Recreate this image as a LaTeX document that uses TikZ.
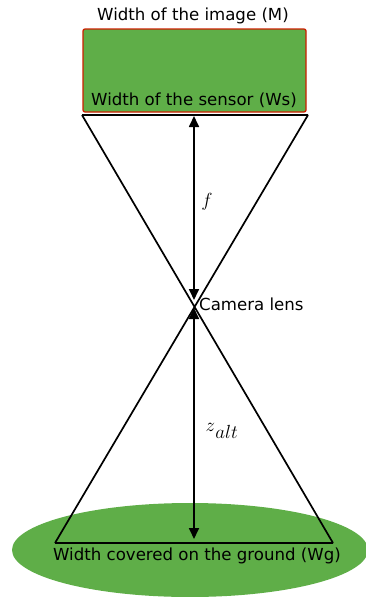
\documentclass[tikz,border=0pt]{standalone}
\usepackage{fix-cm}
\usepackage{fontspec}
\setmainfont{DejaVu Sans}
\usetikzlibrary{arrows.meta,positioning}
\definecolor{grass}{RGB}{95,174,72}
\definecolor{rim}{RGB}{205,30,0}
\tikzset{
  ray/.style={line width=1.7pt},
  dist/.style={line width=1.7pt,{Triangle[width=10pt,length=11pt]}-{Triangle[width=10pt,length=11pt]}},
  lbl/.style={font=\fontsize{16.6}{19}\selectfont,inner sep=0pt},
  sym/.style={font=\fontsize{19}{22}\selectfont,inner sep=0pt},
}
\begin{document}
\begin{tikzpicture}[x=1pt,y=-1pt]
\useasboundingbox (0,0) rectangle (366,597);
% ground
\fill[grass] (190,550) ellipse[x radius=178,y radius=47];
% sensor
\draw[rim,fill=grass,line width=1.3pt,rounded corners=2pt] (83,29) rectangle (306,112);
\coordinate (S1) at (82,115);
\coordinate (S2) at (308,115);
\coordinate (G1) at (55,543);
\coordinate (G2) at (333,543);
\coordinate (L) at (194,304);
\coordinate (T) at (194,116);
\coordinate (B) at (194,539);
\draw[ray] (S1)--(S2) (S1)--(G2) (S2)--(G1) (G1)--(G2);
\draw[dist] (T)--(194,300);
\draw[dist] (194,308)--(B);
\node[lbl] (img) at (193,16) {Width of the image (M)};
\node[lbl] (sens) at (194,100) {Width of the sensor (Ws)};
\node[lbl,right=5pt of L] (lens) {Camera lens};
\node[lbl] (gnd) at (197,556) {Width covered on the ground (Wg)};
\node[sym] (f) at (207,202) {$f$};
\node[sym] (z) at (222,431) {$z_{\kern1pt\textstyle alt}$};
\end{tikzpicture}
\end{document}
